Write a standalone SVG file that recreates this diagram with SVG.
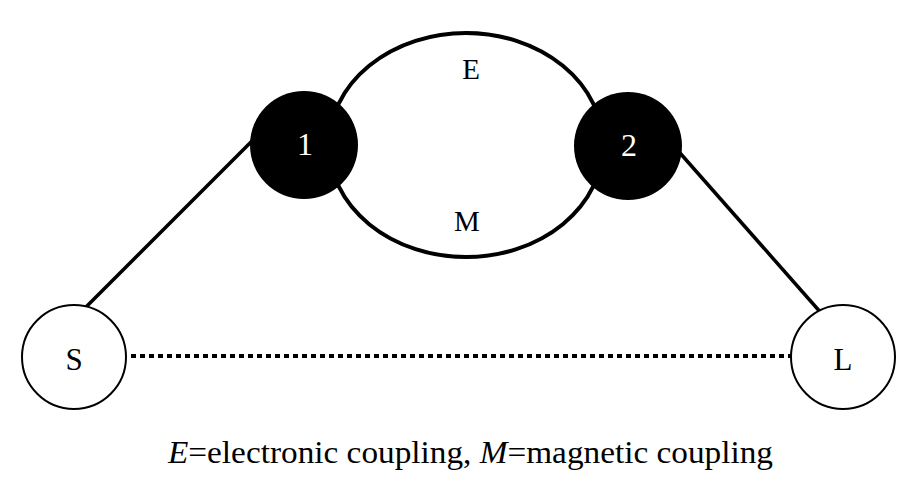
<svg xmlns="http://www.w3.org/2000/svg" width="917" height="496" viewBox="0 0 917 496">
<style>
.t{font-family:'Liberation Serif','Times New Roman',serif;text-anchor:middle}
.cap{font-family:'Liberation Serif','Times New Roman',serif}
.lbl{font-size:29px;fill:#000}
.end{font-size:31px;fill:#000}
.wl{font-size:32px;fill:#fff}
.edge{stroke:#000;fill:none}
</style>
<rect width="917" height="496" fill="#fff"/>
<g id="connectors">
<ellipse class="edge" cx="466" cy="145" rx="137" ry="112" stroke-width="4"/>
<line class="edge" x1="252" y1="141" x2="84" y2="309" stroke-width="3.5"/>
<line class="edge" x1="680" y1="153" x2="822" y2="314" stroke-width="3.5"/>
<line class="edge" x1="131" y1="356" x2="791" y2="356" stroke-width="4" stroke-dasharray="5,4"/>
<text class="t lbl" x="471" y="79">E</text>
<text class="t lbl" x="467" y="231">M</text>
</g>
<g id="node1"><circle cx="304" cy="145" r="54" fill="#000"/><text class="t wl" x="305" y="155">1</text></g>
<g id="node2"><circle cx="628" cy="146" r="54" fill="#000"/><text class="t wl" x="629" y="156">2</text></g>
<g id="nodeS"><circle cx="74" cy="357" r="52" fill="#fff" stroke="#000" stroke-width="2"/><text class="t end" x="74" y="370">S</text></g>
<g id="nodeL"><circle cx="843" cy="357" r="52" fill="#fff" stroke="#000" stroke-width="2"/><text class="t end" x="843" y="370">L</text></g>
<text class="cap" x="168" y="463" font-size="31" textLength="605" lengthAdjust="spacingAndGlyphs"><tspan font-style="italic">E</tspan>=electronic coupling,  <tspan font-style="italic">M</tspan>=magnetic coupling</text>
</svg>
